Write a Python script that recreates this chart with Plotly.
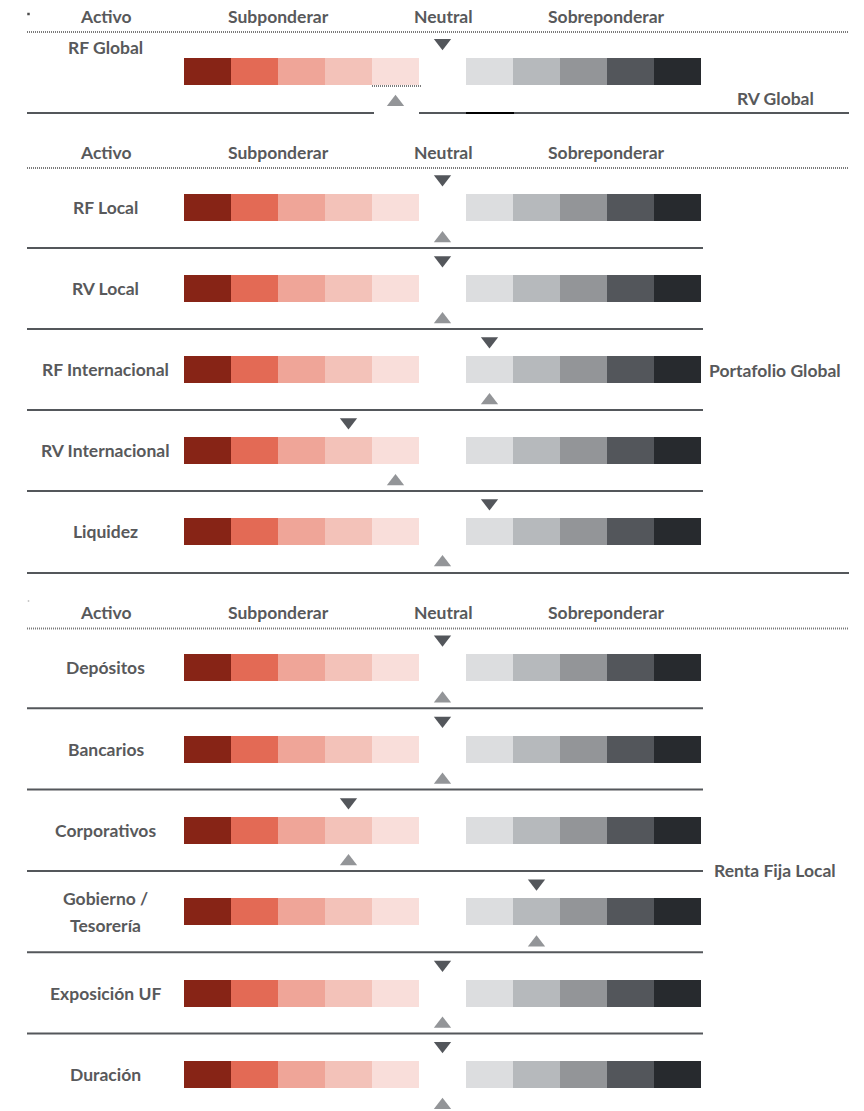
import plotly.graph_objects as go

# ---- data -----------------------------------------------------------------
header_labels = ["Activo", "Subponderar", "Neutral", "Sobreponderar"]

global_assets = ["RF Global"]
global_current = [0]
global_previous = [-1]
global_group = "RV Global"

portfolio_assets = ["RF Local", "RV Local", "RF Internacional", "RV Internacional", "Liquidez"]
portfolio_current = [0, 0, 1, -2, 1]
portfolio_previous = [0, 0, 1, -1, 0]
portfolio_group = "Portafolio Global"

fixed_income_assets = ["Depósitos", "Bancarios", "Corporativos", "Gobierno /<br>Tesorería",
                       "Exposición UF", "Duración"]
fixed_income_current = [0, 0, -2, 2, 0, 0]
fixed_income_previous = [0, 0, -2, 2, 0, 0]
fixed_income_group = "Renta Fija Local"

scale_levels = [-5, -4, -3, -2, -1, 1, 2, 3, 4, 5]
scale_colors = ["#872416", "#E36A55", "#EFA598", "#F3C2B9", "#F9DEDA",
                "#DCDDDF", "#B6B9BC", "#939598", "#53565B", "#272A2E"]

# ---- layout constants -------------------------------------------------------
W, H = 864, 1111
STEP = 47.0          # width of one scale block (px)
ZERO = 442.5         # centre of the neutral slot (px)
TEXT = "#58595B"
LINE = "#54575B"
DOT = "#7A7A7A"
FONT = "Lato"
FONT_SIZE = 17.5
BAR_H = 27
LEFT, ROW_RIGHT, FULL_RIGHT = 27, 703, 849
LABEL_X, GROUP_X = 105.5, 775
HEADER_X = [105.5, 278.5, 443, 606.5]


def sx(px):
    """Pixel column -> position units of the x axis."""
    return (px - ZERO) / STEP


fig = go.Figure()
shapes = []
annotations = []


def text(px, y, s, size=FONT_SIZE):
    annotations.append(dict(x=sx(px), y=y, xref="x", yref="y", text=s, showarrow=False,
                            xanchor="center", yanchor="middle",
                            font=dict(family=FONT, size=size, color=TEXT, weight="bold")))


def hline(x0, x1, y, color=LINE, width=2, dash="solid"):
    shapes.append(dict(type="line", xref="x", yref="y", x0=sx(x0), x1=sx(x1), y0=y, y1=y,
                       line=dict(color=color, width=width, dash=dash), layer="above"))


def header(y_line):
    hline(LEFT, FULL_RIGHT, y_line, color=DOT, width=2, dash="1px,1px")
    for hx, lab in zip(HEADER_X, header_labels):
        text(hx, y_line - 16, lab)


def row_label(y, s):
    parts = s.split("<br>")
    n = len(parts)
    for i, p in enumerate(parts):
        text(LABEL_X, y + (i - (n - 1) / 2) * 27, p)


bar_x, bar_base, bar_y, bar_c = [], [], [], []
down_x, down_y, up_x, up_y = [], [], [], []


def add_row(cy, cur, prev):
    for lvl, col in zip(scale_levels, scale_colors):
        bar_x.append(1.0)
        bar_base.append(lvl - 0.5)
        bar_y.append(cy)
        bar_c.append(col)
    down_x.append(cur)
    down_y.append(cy - BAR_H / 2 - 15)
    up_x.append(prev)
    up_y.append(cy + BAR_H / 2 + 17.5)


# ---- section 1: global ------------------------------------------------------
header(32)
cy = 71.3
for name, cur, prev in zip(global_assets, global_current, global_previous):
    add_row(cy, cur, prev)
    row_label(cy - 24, name)
text(GROUP_X, 98, global_group)
hline(372, 421, 86, color=DOT, width=2, dash="1px,1px")
hline(LEFT, 374, 113)
hline(419, FULL_RIGHT, 113)
hline(466, 514, 113, color="#000000", width=2)

# ---- section 2: portfolio ---------------------------------------------------
header(168)
pitch = 81
first = 207.5
for i, (name, cur, prev) in enumerate(zip(portfolio_assets, portfolio_current, portfolio_previous)):
    cy = first + i * pitch
    add_row(cy, cur, prev)
    row_label(cy, name)
    last = i == len(portfolio_assets) - 1
    hline(LEFT, FULL_RIGHT if last else ROW_RIGHT, cy + 40.5 + (1 if last else 0))
text(GROUP_X, 370.5, portfolio_group)

# ---- section 3: local fixed income -----------------------------------------
header(628.5)
pitch = 81.3
first = 667.8
for i, (name, cur, prev) in enumerate(zip(fixed_income_assets, fixed_income_current,
                                          fixed_income_previous)):
    cy = first + i * pitch
    add_row(cy, cur, prev)
    row_label(cy, name)
    if i < len(fixed_income_assets) - 1:
        hline(LEFT, ROW_RIGHT, cy + 40.5)
text(GROUP_X, 870.5, fixed_income_group)

# ---- traces -----------------------------------------------------------------
fig.add_trace(go.Bar(x=bar_x, base=bar_base, y=bar_y, orientation="h", width=BAR_H,
                     marker=dict(color=bar_c, line=dict(width=0)),
                     hoverinfo="skip", showlegend=False))
fig.add_trace(go.Scatter(x=down_x, y=down_y, mode="markers",
                         marker=dict(symbol="triangle-down", size=15, color="#53565B",
                                     line=dict(width=0)),
                         hoverinfo="skip", showlegend=False))
fig.add_trace(go.Scatter(x=up_x, y=up_y, mode="markers",
                         marker=dict(symbol="triangle-up", size=15, color="#939598",
                                     line=dict(width=0)),
                         hoverinfo="skip", showlegend=False))
# small stray marks in the page margin
fig.add_trace(go.Scatter(x=[sx(28.5), sx(28.5)], y=[14, 601], mode="markers",
                         marker=dict(symbol="square", size=[2.5, 1.5], color=["#000000", "#9A9A9A"],
                                     line=dict(width=0)),
                         hoverinfo="skip", showlegend=False))

fig.update_layout(
    width=W, height=H,
    margin=dict(l=0, r=0, t=0, b=0),
    paper_bgcolor="white", plot_bgcolor="white",
    barmode="overlay", bargap=0,
    xaxis=dict(range=[sx(0), sx(W)], visible=False, fixedrange=True),
    yaxis=dict(range=[H, 0], visible=False, fixedrange=True),
    shapes=shapes, annotations=annotations,
    showlegend=False,
)

fig.write_html("out.html")
